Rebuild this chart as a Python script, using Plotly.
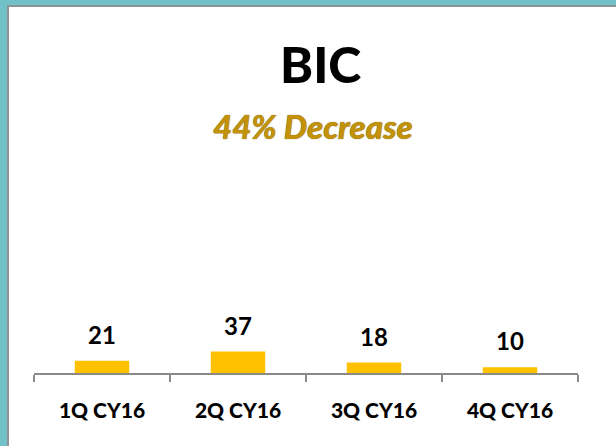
import plotly.graph_objects as go

# Data
quarters = ["1Q CY16", "2Q CY16", "3Q CY16", "4Q CY16"]
counts = [21, 37, 18, 10]
title_text = "BIC"
subtitle_text = "44% Decrease"

W, H = 616, 446
L, R, T, B = 34, 38, 150, 73
FONT = "Lato"
TEAL = "#72C0C8"
GOLD = "#FFC000"


def px_x(px):
    return (px - L) / (W - L - R)


def px_y(py):
    return (H - B - py) / (H - T - B)


fig = go.Figure()
fig.add_trace(go.Bar(x=quarters, y=counts, width=0.4,
                     marker=dict(color=GOLD, line=dict(width=0))))

# value labels above bars
for q, c in zip(quarters, counts):
    fig.add_annotation(x=q, y=c, text=f"<b>{c}</b>", showarrow=False,
                       yanchor="bottom", yshift=10,
                       font=dict(family=FONT, size=24, color="black"))

# title + subtitle
fig.add_annotation(xref="paper", yref="paper", x=px_x(320), y=px_y(64),
                   text=title_text, showarrow=False,
                   xanchor="center", yanchor="middle",
                   font=dict(family=FONT, size=50, color="black", weight=900))
fig.add_annotation(xref="paper", yref="paper", x=px_x(313), y=px_y(126),
                   text=f"<i>{subtitle_text}</i>", showarrow=False,
                   xanchor="center", yanchor="middle",
                   font=dict(family=FONT, size=33, color="#C39208",
                             weight=900, shadow="0px 0px 1px #5a4300"))

# slide frame: teal band top and left with a grey inner edge
shapes = [
    dict(type="rect", xref="paper", yref="paper", layer="above",
         x0=px_x(0), x1=px_x(W), y0=px_y(0), y1=px_y(7),
         fillcolor="#8C9496", line=dict(width=0)),
    dict(type="rect", xref="paper", yref="paper", layer="above",
         x0=px_x(0), x1=px_x(9), y0=px_y(0), y1=px_y(H),
         fillcolor="#8C9496", line=dict(width=0)),
    dict(type="rect", xref="paper", yref="paper", layer="above",
         x0=px_x(0), x1=px_x(W), y0=px_y(0), y1=px_y(5),
         fillcolor=TEAL, line=dict(width=0)),
    dict(type="rect", xref="paper", yref="paper", layer="above",
         x0=px_x(0), x1=px_x(7), y0=px_y(0), y1=px_y(H),
         fillcolor=TEAL, line=dict(width=0)),
]

fig.update_layout(
    width=W, height=H,
    margin=dict(l=L, r=R, t=T, b=B, autoexpand=False),
    plot_bgcolor="white", paper_bgcolor="white",
    showlegend=False,
    shapes=shapes,
)
fig.update_xaxes(range=[-0.5, 3.5], showline=True, linewidth=1.5,
                 linecolor="#8A8A8A", ticks="outside", tickson="boundaries",
                 ticklen=7, tickwidth=1.5, tickcolor="#8A8A8A",
                 ticklabelstandoff=18, showgrid=False, automargin=False,
                 tickfont=dict(family=FONT, size=21, color="black",
                               weight=900))
fig.update_yaxes(range=[0, 384], visible=False, showgrid=False)

fig.write_html("out.html", config={"displayModeBar": False},
               post_script="document.body.style.margin='0';")
